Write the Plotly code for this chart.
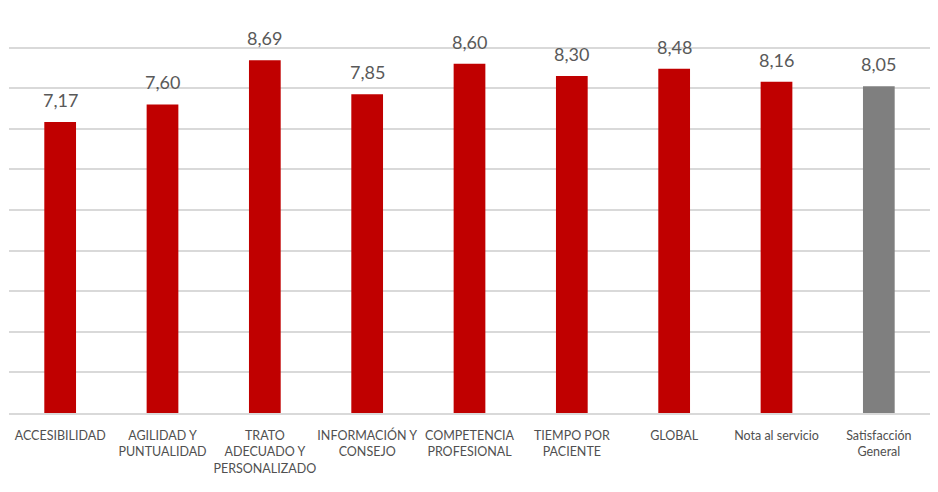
import plotly.graph_objects as go

categories = ["ACCESIBILIDAD", "AGILIDAD Y<br>PUNTUALIDAD", "TRATO<br>ADECUADO Y<br>PERSONALIZADO",
              "INFORMACIÓN Y<br>CONSEJO", "COMPETENCIA<br>PROFESIONAL", "TIEMPO POR<br>PACIENTE",
              "GLOBAL", "Nota al servicio", "Satisfacción<br>General"]
values = [7.17, 7.60, 8.69, 7.85, 8.60, 8.30, 8.48, 8.16, 8.05]
colors = ["#C00000"] * 8 + ["#7F7F7F"]

FONT = "Lato, Liberation Sans Narrow, sans-serif"

fig = go.Figure(go.Bar(
    x=categories, y=values, marker_color=colors, marker_line_width=0,
    cliponaxis=False, hoverinfo="x+y",
))
for c, v in zip(categories, values):
    fig.add_annotation(x=c, y=v, text=f"{v:.2f}".replace(".", ","), showarrow=False,
                       yanchor="bottom", yshift=9,
                       font=dict(size=18, color="#595959", family=FONT))
fig.update_layout(
    width=938, height=492, margin=dict(l=9, r=8, t=7, b=79),
    paper_bgcolor="white", plot_bgcolor="white", separators=",.",
    bargap=0.69, showlegend=False,
    font=dict(family=FONT, color="#595959", size=13),
)
fig.update_xaxes(showline=True, linecolor="#D9D9D9", linewidth=2, ticks="", tickangle=0,
                 automargin=False, ticklabelstandoff=10,
                 tickfont=dict(size=12.5, color="#505050", family=FONT))
fig.update_yaxes(range=[0, 10], dtick=1, showticklabels=False, showgrid=True, gridcolor="#D9D9D9",
                 gridwidth=1.5, zeroline=False)
fig.write_html("out.html")
